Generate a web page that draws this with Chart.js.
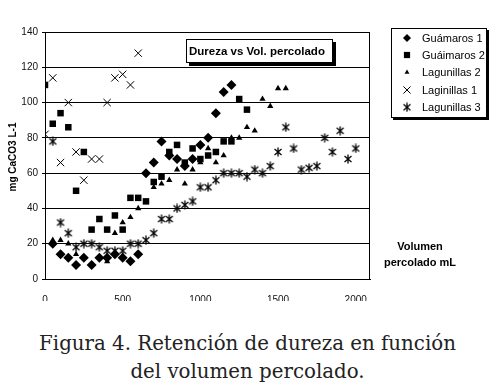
<!DOCTYPE html>
<html>
<head>
<meta charset="utf-8">
<script src="https://cdn.jsdelivr.net/npm/chart.js@4/dist/chart.umd.min.js"></script>
<style>
  html, body { margin: 0; padding: 0; background: #fff; }
  #wrap { position: relative; width: 495px; height: 320px; }
  #caption { width: 495px; text-align: center; font-family: "DejaVu Serif", "Liberation Serif", serif; font-size: 19.8px; line-height: 28px; color: #222; margin-top: 10px; }
</style>
</head>
<body>
<div id="wrap"><canvas id="c" width="495" height="320"></canvas></div>
<div id="caption">Figura 4. Retención de dureza en función<br>del volumen percolado.</div>
<script>
// ---- data ----
const xTicks = [0, 500, 1000, 1500, 2000];
const yTicks = [0, 20, 40, 60, 80, 100, 120, 140];
const seriesNames = ["Guámaros 1", "Guáimaros 2", "Lagunillas 2", "Laginillas 1", "Lagunillas 3"];

const volGuamaros1 = [50,100,150,200,250,300,350,400,450,500,550,600,650,700,750,800,850,900,950,1000,1050,1100,1150,1200];
const guamaros1    = [20,14,12,8,12,8,12,12,14,12,10,14,60,66,78,70,68,64,68,76,80,94,106,110];

const volGuaimaros2 = [0,50,100,150,200,250,300,350,400,450,500,550,600,650,700,750,800,850,900,950,1000,1050,1100,1150,1200,1250,1300];
const guaimaros2    = [110,88,94,86,50,72,28,34,28,36,28,46,46,44,55,58,72,76,66,74,68,70,72,78,78,102,96];

const volLagunillas2 = [50,100,150,200,400,450,500,550,600,700,750,800,850,900,950,1000,1050,1100,1150,1200,1250,1300,1350,1400,1450,1500,1550];
const lagunillas2    = [22,22,20,14,10,26,32,35,40,52,54,56,62,54,62,66,74,66,70,80,80,86,84,102,98,108,108];

const volLaginillas1 = [0,50,100,150,200,250,300,350,400,450,500,550,600];
const laginillas1    = [82,114,66,100,72,56,68,68,100,114,116,110,128];

const volLagunillas3 = [50,100,150,200,250,300,350,400,450,500,550,600,650,700,750,800,850,900,950,1000,1050,1100,1150,1200,1250,1300,1350,1400,1450,1500,1550,1600,1650,1700,1750,1800,1850,1900,1950,2000];
const lagunillas3    = [78,32,26,18,20,20,18,16,16,16,20,20,22,26,34,34,40,42,44,52,52,56,60,60,60,58,62,60,64,72,86,74,62,63,64,80,72,84,68,74];

// ---- helpers ----
function pts(xs, ys) { return xs.map((x, i) => ({ x: x, y: ys[i] })); }

function makeAsterisk() {
  const cv = document.createElement('canvas');
  cv.width = 10; cv.height = 10;
  const g = cv.getContext('2d');
  g.strokeStyle = '#000'; g.lineWidth = 1.3;
  g.lineCap = 'butt';
  g.beginPath();
  g.moveTo(5, 0.5); g.lineTo(5, 9.5);
  g.moveTo(1.5, 2); g.lineTo(8.5, 8);
  g.moveTo(8.5, 2); g.lineTo(1.5, 8);
  g.stroke();
  return cv;
}
const asterisk = makeAsterisk();

const styles = [
  { pointStyle: 'rectRot', radius: 5, bg: '#000', bw: 0 },
  { pointStyle: 'rect', radius: 4.6, bg: '#000', bw: 0 },
  { pointStyle: 'triangle', radius: 3.6, bg: '#000', bw: 0 },
  { pointStyle: 'crossRot', radius: 5.2, bg: '#000', bw: 1 },
  { pointStyle: asterisk, radius: 5, bg: '#000', bw: 1 }
];
const seriesData = [
  pts(volGuamaros1, guamaros1),
  pts(volGuaimaros2, guaimaros2),
  pts(volLagunillas2, lagunillas2),
  pts(volLaginillas1, laginillas1),
  pts(volLagunillas3, lagunillas3)
];

const datasets = seriesNames.map((n, i) => ({
  label: n,
  data: seriesData[i],
  pointStyle: styles[i].pointStyle,
  pointRadius: styles[i].radius,
  pointHoverRadius: styles[i].radius,
  backgroundColor: styles[i].bg,
  borderColor: '#000',
  borderWidth: styles[i].bw,
  showLine: false
}));

const SANS = '"Liberation Sans", Arial, sans-serif';

const decor = {
  id: 'decor',
  afterDraw(chart) {
    const ctx = chart.ctx;
    const a = chart.chartArea;
    ctx.save();
    // plot border
    ctx.strokeStyle = '#000'; ctx.lineWidth = 1;
    ctx.strokeRect(Math.round(a.left) + 0.5, Math.round(a.top) + 0.5, Math.round(a.right - a.left) - 1, Math.round(a.bottom - a.top));

    // title box with shadow
    const tb = { x: 186, y: 39, w: 147, h: 24 };
    ctx.fillStyle = '#000';
    ctx.fillRect(tb.x + 3, tb.y + 3, tb.w, tb.h);
    ctx.fillStyle = '#fff';
    ctx.fillRect(tb.x, tb.y, tb.w, tb.h);
    ctx.strokeRect(tb.x + 0.5, tb.y + 0.5, tb.w - 1, tb.h - 1);
    ctx.fillStyle = '#000';
    ctx.font = 'bold 11.5px ' + SANS;
    ctx.textBaseline = 'middle'; ctx.textAlign = 'left';
    ctx.fillText('Dureza vs Vol. percolado', 189, 51.5);

    // legend box with shadow
    const lb = { x: 391, y: 28, w: 96, h: 90 };
    ctx.fillStyle = '#000';
    ctx.fillRect(lb.x + 2, lb.y + 2, lb.w, lb.h);
    ctx.fillStyle = '#fff';
    ctx.fillRect(lb.x, lb.y, lb.w, lb.h);
    ctx.strokeRect(lb.x + 0.5, lb.y + 0.5, lb.w - 1, lb.h - 1);
    ctx.font = '11px ' + SANS;
    const rowsY = [38, 55, 72.3, 90, 107.3];
    seriesNames.forEach((n, i) => {
      const y = rowsY[i];
      const st = styles[i];
      ctx.fillStyle = '#000'; ctx.strokeStyle = '#000';
      ctx.lineWidth = st.bw || 1;
      const r = i === 2 ? 2.8 : (i === 0 ? 4 : (i === 1 ? 4.4 : 5));
      Chart.helpers.drawPoint(ctx, { pointStyle: st.pointStyle, radius: r, rotation: 0, borderWidth: st.bw }, 407, y);
      ctx.fillStyle = '#000';
      ctx.textAlign = 'left'; ctx.textBaseline = 'middle';
      ctx.fillText(n, 422, y + 0.5);
    });

    // y axis title
    ctx.save();
    ctx.translate(13, 157);
    ctx.rotate(-Math.PI / 2);
    ctx.font = 'bold 10px ' + SANS;
    ctx.textAlign = 'center'; ctx.textBaseline = 'middle';
    ctx.fillStyle = '#000';
    ctx.fillText('mg CaCO3 L-1', 0, 0);
    ctx.restore();

    // x axis title
    ctx.font = 'bold 11px ' + SANS;
    ctx.textAlign = 'center'; ctx.textBaseline = 'middle';
    ctx.fillStyle = '#000';
    ctx.fillText('Volumen', 420, 247);
    ctx.fillText('percolado mL', 420, 263);
    ctx.restore();
  }
};

new Chart(document.getElementById('c'), {
  type: 'scatter',
  data: { datasets: datasets },
  options: {
    responsive: false,
    animation: false,
    layout: { padding: { left: 0, right: 125, top: 32, bottom: 19 } },
    plugins: { legend: { display: false }, tooltip: { enabled: false } },
    scales: {
      x: {
        type: 'linear', min: 0, max: 2092,
        afterBuildTicks: s => { s.ticks = xTicks.map(v => ({ value: v })); },
        afterFit: s => { s.height = 22; },
        grid: { display: false },
        border: { display: true, color: '#000', width: 1 },
        ticks: { color: '#111', font: { family: SANS, size: 10 }, padding: 7, maxRotation: 0, autoSkip: false,
                 callback: v => String(v) }
      },
      y: {
        type: 'linear', min: 0, max: 140,
        afterBuildTicks: s => { s.ticks = yTicks.map(v => ({ value: v })); },
        afterFit: s => { s.width = 45; },
        grid: { color: '#000', lineWidth: 1, drawTicks: true, tickLength: 3 },
        border: { display: true, color: '#000', width: 1 },
        ticks: { color: '#111', font: { family: SANS, size: 10 }, padding: 4, callback: v => String(v) }
      }
    }
  },
  plugins: [decor]
});
</script>
</body>
</html>
